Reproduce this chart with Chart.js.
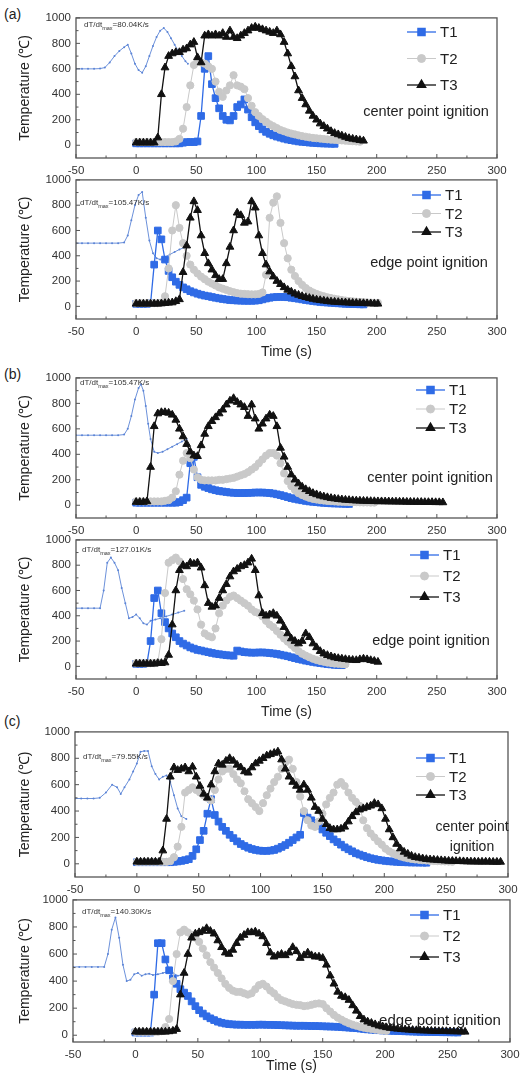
<!DOCTYPE html>
<html lang="en">
<head>
<meta charset="UTF-8">
<title>Temperature histories at T1-T3</title>
<script src="https://cdn.jsdelivr.net/npm/chart.js"></script>
<style>
  body { margin: 0; background: #fff; }
  .sheet { position: relative; width: 532px; height: 1077px; font-family: "Liberation Sans", Arial, sans-serif; }
  .sheet canvas { position: absolute; left: 0; }
  .tag { position: absolute; left: 4px; font-size: 14px; color: #222; }
</style>
</head>
<body>
<div class="sheet" id="sheet">
  <div class="tag" style="top:6px">(a)</div>
  <div class="tag" style="top:366px">(b)</div>
  <div class="tag" style="top:713px">(c)</div>
</div>
<script>
// sample instants (s), one reading every 3 s
const sampleTimes = [0,3,6,9,12,15,18,21,24,27,30,33,36,39,42,45,48,51,54,57,60,63,66,69,72,75,78,81,84,87,90,93,96,99,102,105,108,111,114,117,120,123,126,129,132,135,138,141,144,147,150,153,156,159,162,165,168,171,174,177,180,183,186,189,192,195,198,201,204,207,210,213,216,219,222,225,228,231,234,237,240,243,246,249,252,255,258,261,264,267,270,273,276,279,282,285,288,291,294];
const yTicks = [0, 200, 400, 600, 800, 1000];

// (a) center point ignition
const a1T1 = [15,15,15,15,15,15,15,15,15,15,15,15,15,20,25,25,25,30,230,600,700,480,370,290,230,200,195,230,300,320,360,280,220,180,150,125,105,90,78,68,60,52,45,40,35,30,27,24,21,19,17,15,14,13,12,11];
const a1T2 = [25,25,25,25,25,25,25,25,25,25,25,30,50,130,300,470,630,660,650,640,620,600,500,420,380,430,470,550,470,460,440,370,310,260,230,205,185,165,150,135,120,110,100,92,85,78,72,67,62,58,55,52,49,46,44,42,40,38,36,34,32,30,28];
const a1T3 = [20,20,20,20,20,20,60,400,610,700,720,730,730,750,760,790,810,690,650,860,870,860,870,860,880,850,900,850,840,860,880,900,920,930,920,910,900,890,880,900,870,810,720,620,540,430,370,320,270,230,200,170,150,130,110,95,85,75,65,55,50,45,40,35];
const a1RateX = [-50,-45,-40,-35,-30,-26,-22,-18,-14,-10,-7,-4,-1,2,5,8,11,14,17,20,23,26,29,32,35,38,41,43];
const a1RateY = [600,600,600,600,602,610,650,700,740,770,790,720,640,590,570,620,700,780,850,900,920,890,840,790,740,700,660,640];

// (a) edge point ignition
const a2T1 = [20,20,20,20,25,330,600,530,370,280,230,195,170,150,135,120,110,100,92,85,80,74,68,63,58,54,50,48,46,45,44,44,44,45,48,55,62,68,72,74,75,74,72,68,64,60,55,50,46,42,38,35,32,30,28,26,24,22,20,19,18,17,16,15];
const a2T2 = [25,25,25,25,25,25,25,30,80,300,600,800,620,500,400,330,290,260,235,215,195,180,165,150,140,130,120,112,105,100,98,96,95,95,98,110,250,700,820,870,660,500,380,290,240,200,170,145,125,110,98,88,80,72,66,60,55,50,46,43,40,37,35,33,31,30,29,28];
const a2T3 = [20,20,20,20,20,20,20,22,25,28,30,40,55,270,480,700,830,760,560,420,340,290,245,215,215,340,470,600,740,720,660,670,830,780,560,420,330,275,235,200,175,150,130,115,100,90,80,72,65,58,52,48,44,40,37,35,33,31,30,28,27,26,25,24,23,22,21,20];
const a2RateX = [-50,-45,-40,-35,-30,-25,-20,-15,-10,-7,-4,-1,2,5,8,11,14,17,20,24,28,32,36,40];
const a2RateY = [500,500,500,500,500,500,500,500,505,560,680,800,880,905,700,520,420,380,370,390,410,430,450,465];

// (b) center point ignition
const b1T1 = [20,20,20,20,20,20,20,20,20,20,20,20,25,40,60,330,380,220,160,145,135,125,118,112,108,104,100,98,96,96,96,97,98,100,100,100,98,96,92,86,80,72,64,56,50,44,39,34,30,27,24,21,19,17,15,14,13,12,11,10];
const b1T2 = [30,30,30,30,30,30,30,30,35,40,60,110,240,350,410,370,280,220,200,195,195,195,195,200,200,205,210,215,225,235,245,260,280,300,330,360,390,410,410,390,330,250,190,150,120,95,80,68,58,50,45,40,37,34,32,30,28,27,26,25,24,24,23,22,22,21,21];
const b1T3 = [25,25,25,30,300,620,720,730,730,725,710,670,600,540,480,420,390,385,470,560,620,660,690,720,750,790,820,840,810,790,770,700,790,680,600,640,680,710,700,620,450,380,300,240,200,170,145,125,110,95,85,75,68,62,56,52,48,45,42,40,38,36,35,34,33,32,31,30,30,29,29,28,28,27,27,26,26,25,25,25,24,24,24,23,23,22];
const b1RateX = [-50,-45,-40,-35,-30,-25,-20,-15,-10,-7,-4,-1,2,4,6,8,10,12,15,18,22,26,30,34,38,42];
const b1RateY = [550,550,550,550,550,550,550,550,555,600,700,830,920,950,900,780,640,520,420,410,420,440,460,480,500,520];

// (b) edge point ignition
const b2T1 = [20,20,20,25,200,540,600,420,350,300,260,230,200,180,165,150,140,130,125,118,112,106,100,96,92,88,86,84,125,118,112,110,108,108,110,110,108,105,102,98,92,86,80,72,65,58,52,45,40,35,30,26,22,18,15,12,10,9];
const b2T2 = [25,25,25,25,25,25,30,215,580,820,840,860,830,690,610,570,520,450,330,260,240,230,300,420,480,520,550,560,540,520,500,480,450,430,420,395,360,330,310,280,250,220,195,170,145,120,100,85,72,60,50,42,36,30,26,22,20,18,16];
const b2T3 = [20,20,20,20,20,20,25,25,30,90,330,600,760,800,790,820,810,820,780,640,500,470,480,540,600,650,710,750,770,790,800,820,850,760,560,420,400,410,420,400,360,310,260,220,200,180,200,260,230,180,150,120,100,88,78,70,64,60,56,52,50,48,55,60,55,48,42,35];
const b2RateX = [-50,-45,-40,-35,-30,-27,-24,-21,-18,-15,-12,-9,-6,-3,0,3,6,9,12,16,20,25,30,35,40];
const b2RateY = [460,460,460,460,460,600,820,860,820,760,620,500,380,390,410,380,340,330,360,370,380,395,410,425,440];

// (c) center point ignition
const c1T1 = [12,12,12,12,12,12,12,12,12,12,15,18,22,28,35,60,110,180,250,380,490,370,320,280,250,220,195,170,150,135,122,112,105,100,98,98,100,105,115,128,142,160,180,200,220,385,350,330,310,290,260,235,210,185,165,145,125,110,95,80,70,60,50,42,36,30,26,22,19,17,15,13,12,11,10,10,9,9,8];
const c1T2 = [15,15,15,15,15,15,15,15,15,20,50,130,280,540,560,580,560,540,520,500,480,560,640,700,720,720,680,640,610,550,490,460,430,400,460,520,570,620,660,720,770,790,720,620,510,400,330,290,280,320,380,450,500,540,600,620,590,540,500,470,440,330,270,230,200,170,145,115,95,80,66,56,48,42,37,33,30,27,25,23,21,20,19,18,17,16];
const c1T3 = [15,15,15,15,15,15,15,100,340,660,730,710,720,730,700,735,660,590,530,500,600,700,760,750,780,800,780,750,730,700,690,730,760,780,800,820,830,840,850,790,720,660,620,590,560,600,560,500,430,400,340,300,270,260,260,265,280,320,360,390,410,420,430,440,460,450,420,340,260,200,150,115,90,75,60,50,45,40,35,32,30,28,26,24,22,21,20,19,18,17,16,16,15,15,15,15,14,14,14];
const c1RateX = [-50,-45,-40,-35,-30,-25,-20,-16,-13,-10,-6,-3,0,3,6,9,12,15,18,21,24,27,30,33,36,40];
const c1RateY = [495,495,495,495,500,540,600,580,530,580,640,700,760,850,855,855,740,680,640,660,670,620,520,420,360,340];

// (c) edge point ignition
const c2T1 = [20,20,20,20,20,300,680,680,560,480,420,380,340,315,290,250,215,185,160,140,125,112,100,92,86,82,80,78,78,77,77,77,77,78,78,77,77,76,75,74,73,72,71,70,70,70,69,68,68,67,66,65,64,63,62,60,58,56,54,52,49,46,43,41,39,37,35,34,33,32,31,30,29,28,27,26,25,25,24,24,23,23,22,22,21,21,20];
const c2T2 = [25,25,25,25,25,25,25,30,60,120,400,600,760,780,760,740,720,690,640,590,540,500,460,420,380,350,330,320,320,310,300,310,340,370,380,360,330,310,280,260,250,240,230,225,222,215,218,225,232,235,230,200,175,150,130,115,100,88,78,70,62,56,50,46,42,38,35,32];
const c2T3 = [25,25,25,25,25,25,25,25,25,28,32,45,300,460,600,720,750,760,770,790,770,750,700,650,610,600,630,680,720,740,760,760,765,750,730,680,610,580,590,600,590,610,650,620,570,590,610,590,580,580,570,520,440,380,320,290,280,260,220,180,140,115,100,90,80,70,64,58,53,50,47,44,42,40,38,36,35,34,33,32,31,30,30,29,28,28,27,26,25];
const c2RateX = [-50,-45,-40,-35,-30,-25,-22,-19,-16,-13,-10,-7,-4,-1,2,5,8,11,14,18,22,26,30,34,38];
const c2RateY = [505,505,505,505,505,505,600,780,870,720,520,400,410,450,460,440,450,455,445,450,460,470,460,440,450];

const BLUE = '#2f6be6';
const GRAY = '#c9c9c9';
const BLACK = '#111111';
const RATE_BLUE = '#5b84d6';
const FONT = '"Liberation Sans", Arial, sans-serif';

Chart.defaults.font.family = FONT;

// where each frame sits on the page and where its labels go
const panels = [
  { top: 16, bottom: 158, left: 76, right: 497, yMin: -100, axisH: 22,
    temps: [a1T1, a1T2, a1T3], rateX: a1RateX, rateY: a1RateY, rate: '80.04', rateAt: [84, 25],
    note: ['center point ignition'], noteAt: [426, 112], noteSize: 14.5, legendAt: [407, 32, 26.5] },
  { top: 178, bottom: 319, left: 76, right: 497, yMin: -100, axisH: 44,
    temps: [a2T1, a2T2, a2T3], rateX: a2RateX, rateY: a2RateY, rate: '105.47', rateAt: [80, 203],
    note: ['edge point ignition'], noteAt: [429, 263], noteSize: 14.5, legendAt: [412, 195, 18.5] },
  { top: 376, bottom: 518, left: 76, right: 497, yMin: -100, axisH: 22,
    temps: [b1T1, b1T2, b1T3], rateX: b1RateX, rateY: b1RateY, rate: '105.47', rateAt: [80, 383],
    note: ['center point ignition'], noteAt: [430, 478], noteSize: 14.5, legendAt: [416, 390, 19] },
  { top: 538, bottom: 679, left: 76, right: 497, yMin: -100, axisH: 44,
    temps: [b2T1, b2T2, b2T3], rateX: b2RateX, rateY: b2RateY, rate: '127.01', rateAt: [82, 550],
    note: ['edge point ignition'], noteAt: [431, 641], noteSize: 14.5, legendAt: [410, 555, 21] },
  { top: 730, bottom: 877, left: 75, right: 508, yMin: -100, axisH: 22,
    temps: [c1T1, c1T2, c1T3], rateX: c1RateX, rateY: c1RateY, rate: '79.55', rateAt: [83, 757],
    note: ['center point', 'ignition'], noteAt: [472, 827], noteSize: 14, legendAt: [416, 758, 18.5] },
  { top: 898, bottom: 1042, left: 73, right: 510, yMin: -50, axisH: 35,
    temps: [c2T1, c2T2, c2T3], rateX: c2RateX, rateY: c2RateY, rate: '140.30', rateAt: [82, 912],
    note: ['edge point ignition'], noteAt: [440, 1021], noteSize: 15, legendAt: [410, 915, 21] }
];

const seriesStyle = [
  { label: 'T1', color: BLUE, pointStyle: 'rect', radius: 4.7, width: 1.3, order: 3 },
  { label: 'T2', color: GRAY, pointStyle: 'circle', radius: 3.6, width: 1, order: 2 },
  { label: 'T3', color: BLACK, pointStyle: 'triangle', radius: 4.5, width: 1.3, order: 1 }
];

function toPoints(values) {
  return values.map((v, i) => ({ x: sampleTimes[i], y: v }));
}

// frame, inward ticks, legend and the small notes inside each plot
function decor(p, offsetY) {
  return {
    id: 'decor',
    afterDraw(chart) {
      const { ctx, chartArea: a, scales: { x, y } } = chart;
      ctx.save();
      ctx.strokeStyle = '#555';
      ctx.lineWidth = 1;
      const seg = (x0, y0, x1, y1) => { ctx.beginPath(); ctx.moveTo(x0, y0); ctx.lineTo(x1, y1); ctx.stroke(); };
      x.ticks.forEach((t, i) => {
        const px = x.getPixelForValue(t.value);
        seg(px, a.bottom, px, a.bottom - 4);
        if (i < x.ticks.length - 1) {
          const m = x.getPixelForValue((t.value + x.ticks[i + 1].value) / 2);
          seg(m, a.bottom, m, a.bottom - 2.5);
        }
      });
      y.ticks.forEach((t, i) => {
        const py = y.getPixelForValue(t.value);
        seg(a.left, py, a.left + 4, py);
        if (i < y.ticks.length - 1) {
          const m = y.getPixelForValue((t.value + y.ticks[i + 1].value) / 2);
          seg(a.left, m, a.left + 2.5, m);
        }
      });
      ctx.lineWidth = 1.3;
      ctx.strokeRect(a.left, a.top, a.right - a.left, a.bottom - a.top);

      // legend
      const [lx, ly, dy] = p.legendAt;
      seriesStyle.forEach((s, i) => {
        const yy = ly + i * dy - offsetY;
        ctx.strokeStyle = s.color;
        ctx.fillStyle = s.color;
        ctx.lineWidth = s.width;
        seg(lx, yy, lx + 29, yy);
        Chart.helpers.drawPoint(ctx, { pointStyle: s.pointStyle, radius: s.radius + 0.4, borderWidth: 1, rotation: 0 }, lx + 14.5, yy);
        ctx.fillStyle = '#222';
        ctx.font = '15px ' + FONT;
        ctx.textBaseline = 'middle';
        ctx.textAlign = 'left';
        ctx.fillText(s.label, lx + 33, yy + 1);
      });

      // ignition note
      ctx.fillStyle = '#222';
      ctx.font = p.noteSize + 'px ' + FONT;
      ctx.textAlign = 'center';
      p.note.forEach((line, i) => ctx.fillText(line, p.noteAt[0], p.noteAt[1] + i * 20 - offsetY));

      // peak heating rate
      let rx = p.rateAt[0];
      const ry = p.rateAt[1] - offsetY;
      ctx.fillStyle = '#333';
      ctx.textAlign = 'left';
      ctx.font = '8px ' + FONT;
      ctx.fillText('dT/dt', rx, ry);
      rx += ctx.measureText('dT/dt').width;
      ctx.font = '5.5px ' + FONT;
      ctx.fillText('max', rx, ry + 3);
      rx += ctx.measureText('max').width;
      ctx.font = '8px ' + FONT;
      ctx.fillText('=' + p.rate + 'K/s', rx, ry);
      ctx.restore();
    }
  };
}

const sheet = document.getElementById('sheet');

panels.forEach(p => {
  const padTop = 10;
  const canvasTop = p.top - padTop;
  const height = padTop + (p.bottom - p.top) + p.axisH;
  const canvas = document.createElement('canvas');
  canvas.width = 532;
  canvas.height = height;
  canvas.style.top = canvasTop + 'px';
  sheet.appendChild(canvas);

  const datasets = seriesStyle.map((s, i) => ({
    label: s.label,
    data: toPoints(p.temps[i]),
    borderColor: s.color,
    backgroundColor: s.color,
    borderWidth: s.width,
    pointStyle: s.pointStyle,
    pointRadius: s.radius,
    pointBorderWidth: 1,
    pointBackgroundColor: s.color,
    pointBorderColor: s.color,
    tension: 0,
    order: s.order
  }));
  datasets.push({
    label: 'dT/dt',
    data: p.rateX.map((t, i) => ({ x: t, y: p.rateY[i] })),
    borderColor: RATE_BLUE,
    backgroundColor: RATE_BLUE,
    borderWidth: 0.9,
    pointRadius: 1,
    pointBorderWidth: 0,
    tension: 0,
    order: 4
  });

  new Chart(canvas, {
    type: 'line',
    data: { datasets },
    options: {
      responsive: false,
      animation: false,
      layout: { padding: { top: padTop, right: 532 - p.right, left: 0, bottom: 0 } },
      plugins: { legend: { display: false }, tooltip: { enabled: false } },
      scales: {
        x: {
          type: 'linear', min: -50, max: 300,
          ticks: { stepSize: 50, color: '#333', font: { size: 11.5 }, padding: 6, maxRotation: 0, callback: v => String(v) },
          grid: { display: false, drawTicks: false },
          border: { display: false },
          title: { display: p.axisH > 30, text: 'Time (s)', color: '#222', font: { size: 14 }, padding: { top: 0, bottom: 2 } },
          afterFit: s => { s.height = p.axisH; }
        },
        y: {
          type: 'linear', min: p.yMin, max: 1000,
          afterBuildTicks: s => { s.ticks = yTicks.map(v => ({ value: v })); },
          ticks: { color: '#333', font: { size: 11.5 }, padding: 5, callback: v => String(v) },
          grid: { display: false, drawTicks: false },
          border: { display: false },
          title: { display: true, text: 'Temperature (℃)', color: '#222', font: { size: 14 }, padding: { top: 17, bottom: 0 } },
          afterFit: s => { s.width = p.left; }
        }
      }
    },
    plugins: [decor(p, canvasTop)]
  });
});
</script>
</body>
</html>
